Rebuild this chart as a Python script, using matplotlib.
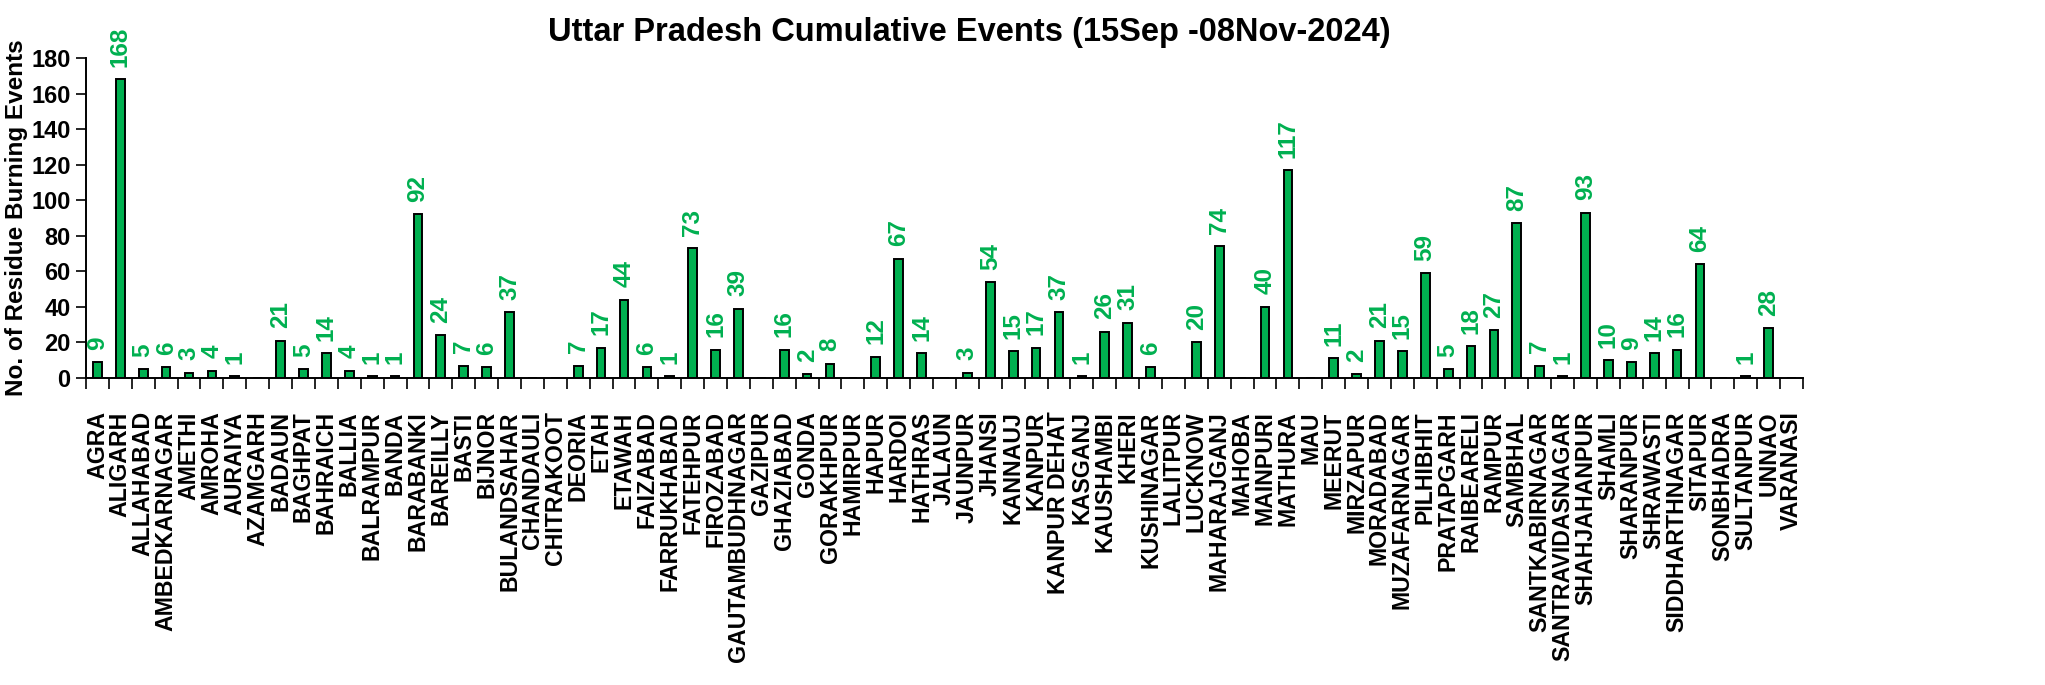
import matplotlib.pyplot as plt
import numpy as np

districts = [
	"AGRA", "ALIGARH", "ALLAHABAD", "AMBEDKARNAGAR", "AMETHI", "AMROHA", "AURAIYA",
	"AZAMGARH", "BADAUN", "BAGHPAT", "BAHRAICH", "BALLIA", "BALRAMPUR", "BANDA",
	"BARABANKI", "BAREILLY", "BASTI", "BIJNOR", "BULANDSAHAR", "CHANDAULI",
	"CHITRAKOOT", "DEORIA", "ETAH", "ETAWAH", "FAIZABAD", "FARRUKHABAD", "FATEHPUR",
	"FIROZABAD", "GAUTAMBUDHNAGAR", "GAZIPUR", "GHAZIABAD", "GONDA", "GORAKHPUR",
	"HAMIRPUR", "HAPUR", "HARDOI", "HATHRAS", "JALAUN", "JAUNPUR", "JHANSI",
	"KANNAUJ", "KANPUR", "KANPUR DEHAT", "KASGANJ", "KAUSHAMBI", "KHERI",
	"KUSHINAGAR", "LALITPUR", "LUCKNOW", "MAHARAJGANJ", "MAHOBA", "MAINPURI",
	"MATHURA", "MAU", "MEERUT", "MIRZAPUR", "MORADABAD", "MUZAFARNAGAR", "PILHIBHIT",
	"PRATAPGARH", "RAIBEARELI", "RAMPUR", "SAMBHAL", "SANTKABIRNAGAR",
	"SANTRAVIDASNAGAR", "SHAHJAHANPUR", "SHAMLI", "SHARANPUR", "SHRAWASTI",
	"SIDDHARTHNAGAR", "SITAPUR", "SONBHADRA", "SULTANPUR", "UNNAO", "VARANASI",
]
events = [
	9, 168, 5, 6, 3, 4, 1,
	0, 21, 5, 14, 4, 1, 1,
	92, 24, 7, 6, 37, 0,
	0, 7, 17, 44, 6, 1, 73,
	16, 39, 0, 16, 2, 8,
	0, 12, 67, 14, 0, 3, 54,
	15, 17, 37, 1, 26, 31,
	6, 0, 20, 74, 0, 40,
	117, 0, 11, 2, 21, 15, 59,
	5, 18, 27, 87, 7,
	1, 93, 10, 9, 14,
	16, 64, 0, 1, 28, 0,
]
yticks = [0, 20, 40, 60, 80, 100, 120, 140, 160, 180]

GREEN = "#00B050"
W, H = 2045, 685
SANS = ["Liberation Sans", "DejaVu Sans"]

fig = plt.figure(figsize=(W / 100, H / 100), dpi=100)
ax = fig.add_axes([86 / W, 1 - 378 / H, (1803 - 86) / W, (378 - 58) / H])

x = np.arange(len(districts))
ax.bar(x, events, width=0.38, color=GREEN, edgecolor="black", linewidth=1.4, zorder=3)

for xi, v in zip(x, events):
	if v > 0:
		ax.annotate(str(v), (xi, v), xytext=(0, 9), textcoords="offset points",
			rotation=90, ha="center", va="bottom", color=GREEN,
			fontsize=17.5, fontweight="bold", family=SANS)

ax.set_xlim(-0.5, len(districts) - 0.5)
ax.set_ylim(0, 180)
ax.set_yticks(yticks)
ax.set_yticklabels([str(t) for t in yticks], fontsize=17, fontweight="bold", family=SANS)

# category-boundary ticks like Excel, labels centred on the bars
ax.set_xticks(np.arange(len(districts) + 1) - 0.5)
ax.set_xticklabels([])
ax.set_xticks(x, minor=True)
ax.set_xticklabels(districts, minor=True, rotation=90, fontsize=16.7, fontweight="bold",
	family=SANS)
ax.tick_params(axis="x", which="major", length=8, width=1.2, direction="out")
ax.tick_params(axis="x", which="minor", length=0, pad=24)
ax.tick_params(axis="y", length=7, width=1.2, direction="out", pad=4)

ax.spines["top"].set_visible(False)
ax.spines["right"].set_visible(False)
ax.spines["left"].set_linewidth(1.4)
ax.spines["bottom"].set_linewidth(1.4)

ax.set_ylabel("No. of Residue Burning Events", fontsize=17.5, fontweight="bold",
	family=SANS, labelpad=2)

fig.text(969 / W, 1 - 32 / H, "Uttar Pradesh Cumulative Events (15Sep -08Nov-2024)",
	ha="center", va="center", fontsize=23.5, fontweight="bold", family=SANS)

fig.savefig("out.png", dpi=100)
